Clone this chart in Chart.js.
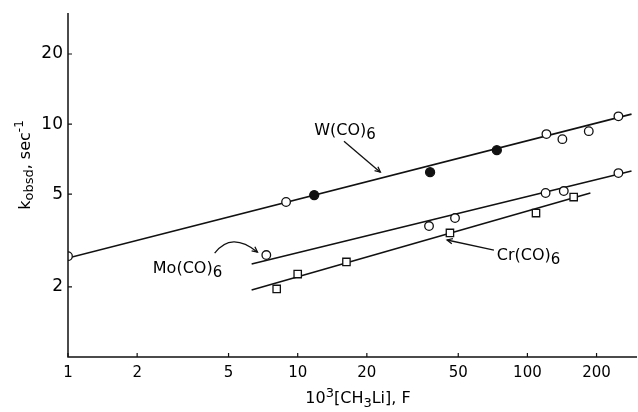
<!DOCTYPE html>
<html>
<head>
<meta charset="utf-8">
<script src="https://cdn.jsdelivr.net/npm/chart.js@4.4.0/dist/chart.umd.min.js"></script>
<style>
  html, body { margin: 0; padding: 0; background: #fff; }
  #wrap { width: 638px; height: 412px; }
</style>
</head>
<body>
<div id="wrap"><canvas id="kChart" width="638" height="412"></canvas></div>
<script>
// values
const wOpenX = [1, 8.9, 121, 142, 185, 249];
const wOpenY = [2.71, 4.63, 9.06, 8.62, 9.33, 10.8];
const wFilledX = [11.8, 37.7, 73.6];
const wFilledY = [4.96, 6.22, 7.73];
const moX = [7.3, 37.3, 48.4, 120, 144, 249];
const moY = [2.74, 3.65, 3.95, 5.06, 5.16, 6.16];
const crX = [8.1, 10, 16.3, 46, 109, 159];
const crY = [1.96, 2.27, 2.56, 3.41, 4.15, 4.86];

// fitted lines (end points)
const wLineX = [1, 284];
const wLineY = [2.66, 11.04];
const moLineX = [6.3, 284];
const moLineY = [2.51, 6.29];
const crLineX = [6.3, 188];
const crLineY = [1.94, 5.06];

const xTicks = [1, 2, 5, 10, 20, 50, 100, 200];
const yTicks = [2, 5, 10, 20];

const ink = '#111';
const pts = (xs, ys) => xs.map((x, i) => ({ x: x, y: ys[i] }));

function fitLine(xs, ys) {
    return {
        data: pts(xs, ys),
        showLine: true,
        borderColor: ink,
        borderWidth: 1.6,
        pointRadius: 0,
        order: 2
    };
}

function marks(xs, ys, style, fill, r) {
    return {
        data: pts(xs, ys),
        showLine: false,
        clip: 0,
        pointStyle: style,
        pointRadius: r,
        pointBackgroundColor: fill,
        pointBorderColor: ink,
        pointBorderWidth: 1.3,
        order: 1
    };
}

// text with a sub/superscript piece, drawn left to right
function richText(ctx, parts, x, y) {
    let cx = x;
    parts.forEach(p => {
        ctx.font = p.size + 'px "DejaVu Sans"';
        ctx.fillText(p.t, cx, y + (p.dy || 0));
        cx += ctx.measureText(p.t).width;
    });
}
function richWidth(ctx, parts) {
    let w = 0;
    parts.forEach(p => {
        ctx.font = p.size + 'px "DejaVu Sans"';
        w += ctx.measureText(p.t).width;
    });
    return w;
}

function arrowHead(ctx, x1, y1, x2, y2) {
    const a = Math.atan2(y2 - y1, x2 - x1);
    const s = 6;
    ctx.beginPath();
    ctx.moveTo(x2 - s * Math.cos(a - 0.45), y2 - s * Math.sin(a - 0.45));
    ctx.lineTo(x2, y2);
    ctx.lineTo(x2 - s * Math.cos(a + 0.45), y2 - s * Math.sin(a + 0.45));
    ctx.stroke();
}

const decor = {
    id: 'decor',
    afterDraw(chart) {
        const ctx = chart.ctx;
        const xs = chart.scales.x, ys = chart.scales.y;
        const area = chart.chartArea;
        const P = (x, y) => [xs.getPixelForValue(x), ys.getPixelForValue(y)];
        ctx.save();
        ctx.strokeStyle = ink;
        ctx.fillStyle = '#000';

        // axes
        ctx.lineWidth = 1.5;
        ctx.beginPath();
        ctx.moveTo(area.left, area.top);
        ctx.lineTo(area.left, area.bottom);
        ctx.lineTo(area.right, area.bottom);
        ctx.stroke();
        ctx.lineWidth = 1.2;
        ctx.beginPath();
        xTicks.forEach(v => {
            const px = xs.getPixelForValue(v);
            ctx.moveTo(px, area.bottom);
            ctx.lineTo(px, area.bottom - 4);
        });
        yTicks.forEach(v => {
            const py = ys.getPixelForValue(v);
            ctx.moveTo(area.left, py);
            ctx.lineTo(area.left + 4, py);
        });
        ctx.stroke();

        // series labels
        ctx.textBaseline = 'alphabetic';
        ctx.textAlign = 'left';
        let p = P(11.8, 8.97);
        richText(ctx, [{ t: 'W(CO)', size: 16 }, { t: '6', size: 15, dy: 4 }], p[0], p[1]);
        p = P(2.34, 2.29);
        richText(ctx, [{ t: 'Mo(CO)', size: 16 }, { t: '6', size: 15, dy: 4 }], p[0], p[1]);
        p = P(73.6, 2.61);
        richText(ctx, [{ t: 'Cr(CO)', size: 16 }, { t: '6', size: 15, dy: 4 }], p[0], p[1]);

        // arrows
        ctx.lineWidth = 1.3;
        let a = P(15.9, 8.45), b = P(22.9, 6.22);
        ctx.beginPath(); ctx.moveTo(a[0], a[1]); ctx.lineTo(b[0], b[1]); ctx.stroke();
        arrowHead(ctx, a[0], a[1], b[0], b[1]);

        a = P(4.35, 2.79); const c = P(5.15, 3.47); b = P(6.68, 2.82);
        ctx.beginPath(); ctx.moveTo(a[0], a[1]); ctx.quadraticCurveTo(c[0], c[1], b[0], b[1]); ctx.stroke();
        arrowHead(ctx, c[0], c[1], b[0], b[1]);

        a = P(71.5, 2.88); b = P(44.7, 3.18);
        ctx.beginPath(); ctx.moveTo(a[0], a[1]); ctx.lineTo(b[0], b[1]); ctx.stroke();
        arrowHead(ctx, a[0], a[1], b[0], b[1]);

        // x axis title
        const xt = [
            { t: '10', size: 16 }, { t: '3', size: 13, dy: -6 },
            { t: '[CH', size: 16 }, { t: '3', size: 13, dy: 4 },
            { t: 'Li], F', size: 16 }
        ];
        const xw = richWidth(ctx, xt);
        richText(ctx, xt, 358 - xw / 2, 403);

        // y axis title
        const yt = [
            { t: 'k', size: 16 }, { t: 'obsd', size: 13, dy: 3 },
            { t: ', sec', size: 16 }, { t: '-1', size: 12, dy: -7 }
        ];
        const yw = richWidth(ctx, yt);
        ctx.translate(30, 165);
        ctx.rotate(-Math.PI / 2);
        richText(ctx, yt, -yw / 2, 0);
        ctx.restore();
    }
};

new Chart(document.getElementById('kChart'), {
    type: 'scatter',
    data: {
        datasets: [
            fitLine(wLineX, wLineY),
            fitLine(moLineX, moLineY),
            fitLine(crLineX, crLineY),
            marks(wOpenX, wOpenY, 'circle', '#fff', 4.3),
            marks(wFilledX, wFilledY, 'circle', ink, 4.5),
            marks(moX, moY, 'circle', '#fff', 4.3),
            marks(crX, crY, 'rect', '#fff', 5.2)
        ]
    },
    options: {
        responsive: false,
        animation: false,
        layout: { autoPadding: false, padding: { top: 13, right: 1, left: 0, bottom: 0 } },
        plugins: {
            legend: { display: false },
            tooltip: { enabled: false }
        },
        scales: {
            x: {
                type: 'logarithmic',
                min: 1,
                max: 300,
                afterBuildTicks: s => { s.ticks = xTicks.map(v => ({ value: v })); },
                afterFit: s => { s.height = 55; s.paddingLeft = 0; s.paddingRight = 0; },
                grid: { display: false, drawTicks: false },
                border: { display: false },
                ticks: {
                    color: '#000',
                    font: { family: 'DejaVu Sans', size: 15 },
                    padding: 7,
                    maxRotation: 0,
                    autoSkip: false,
                    callback: v => String(v)
                }
            },
            y: {
                type: 'logarithmic',
                min: 1,
                max: 30,
                afterBuildTicks: s => { s.ticks = yTicks.map(v => ({ value: v })); },
                afterFit: s => { s.width = 68; s.paddingTop = 0; s.paddingBottom = 0; },
                grid: { display: false, drawTicks: false },
                border: { display: false },
                ticks: {
                    color: '#000',
                    font: { family: 'DejaVu Sans', size: 17 },
                    padding: 5,
                    autoSkip: false,
                    callback: v => String(v)
                }
            }
        }
    },
    plugins: [decor]
});
</script>
</body>
</html>
